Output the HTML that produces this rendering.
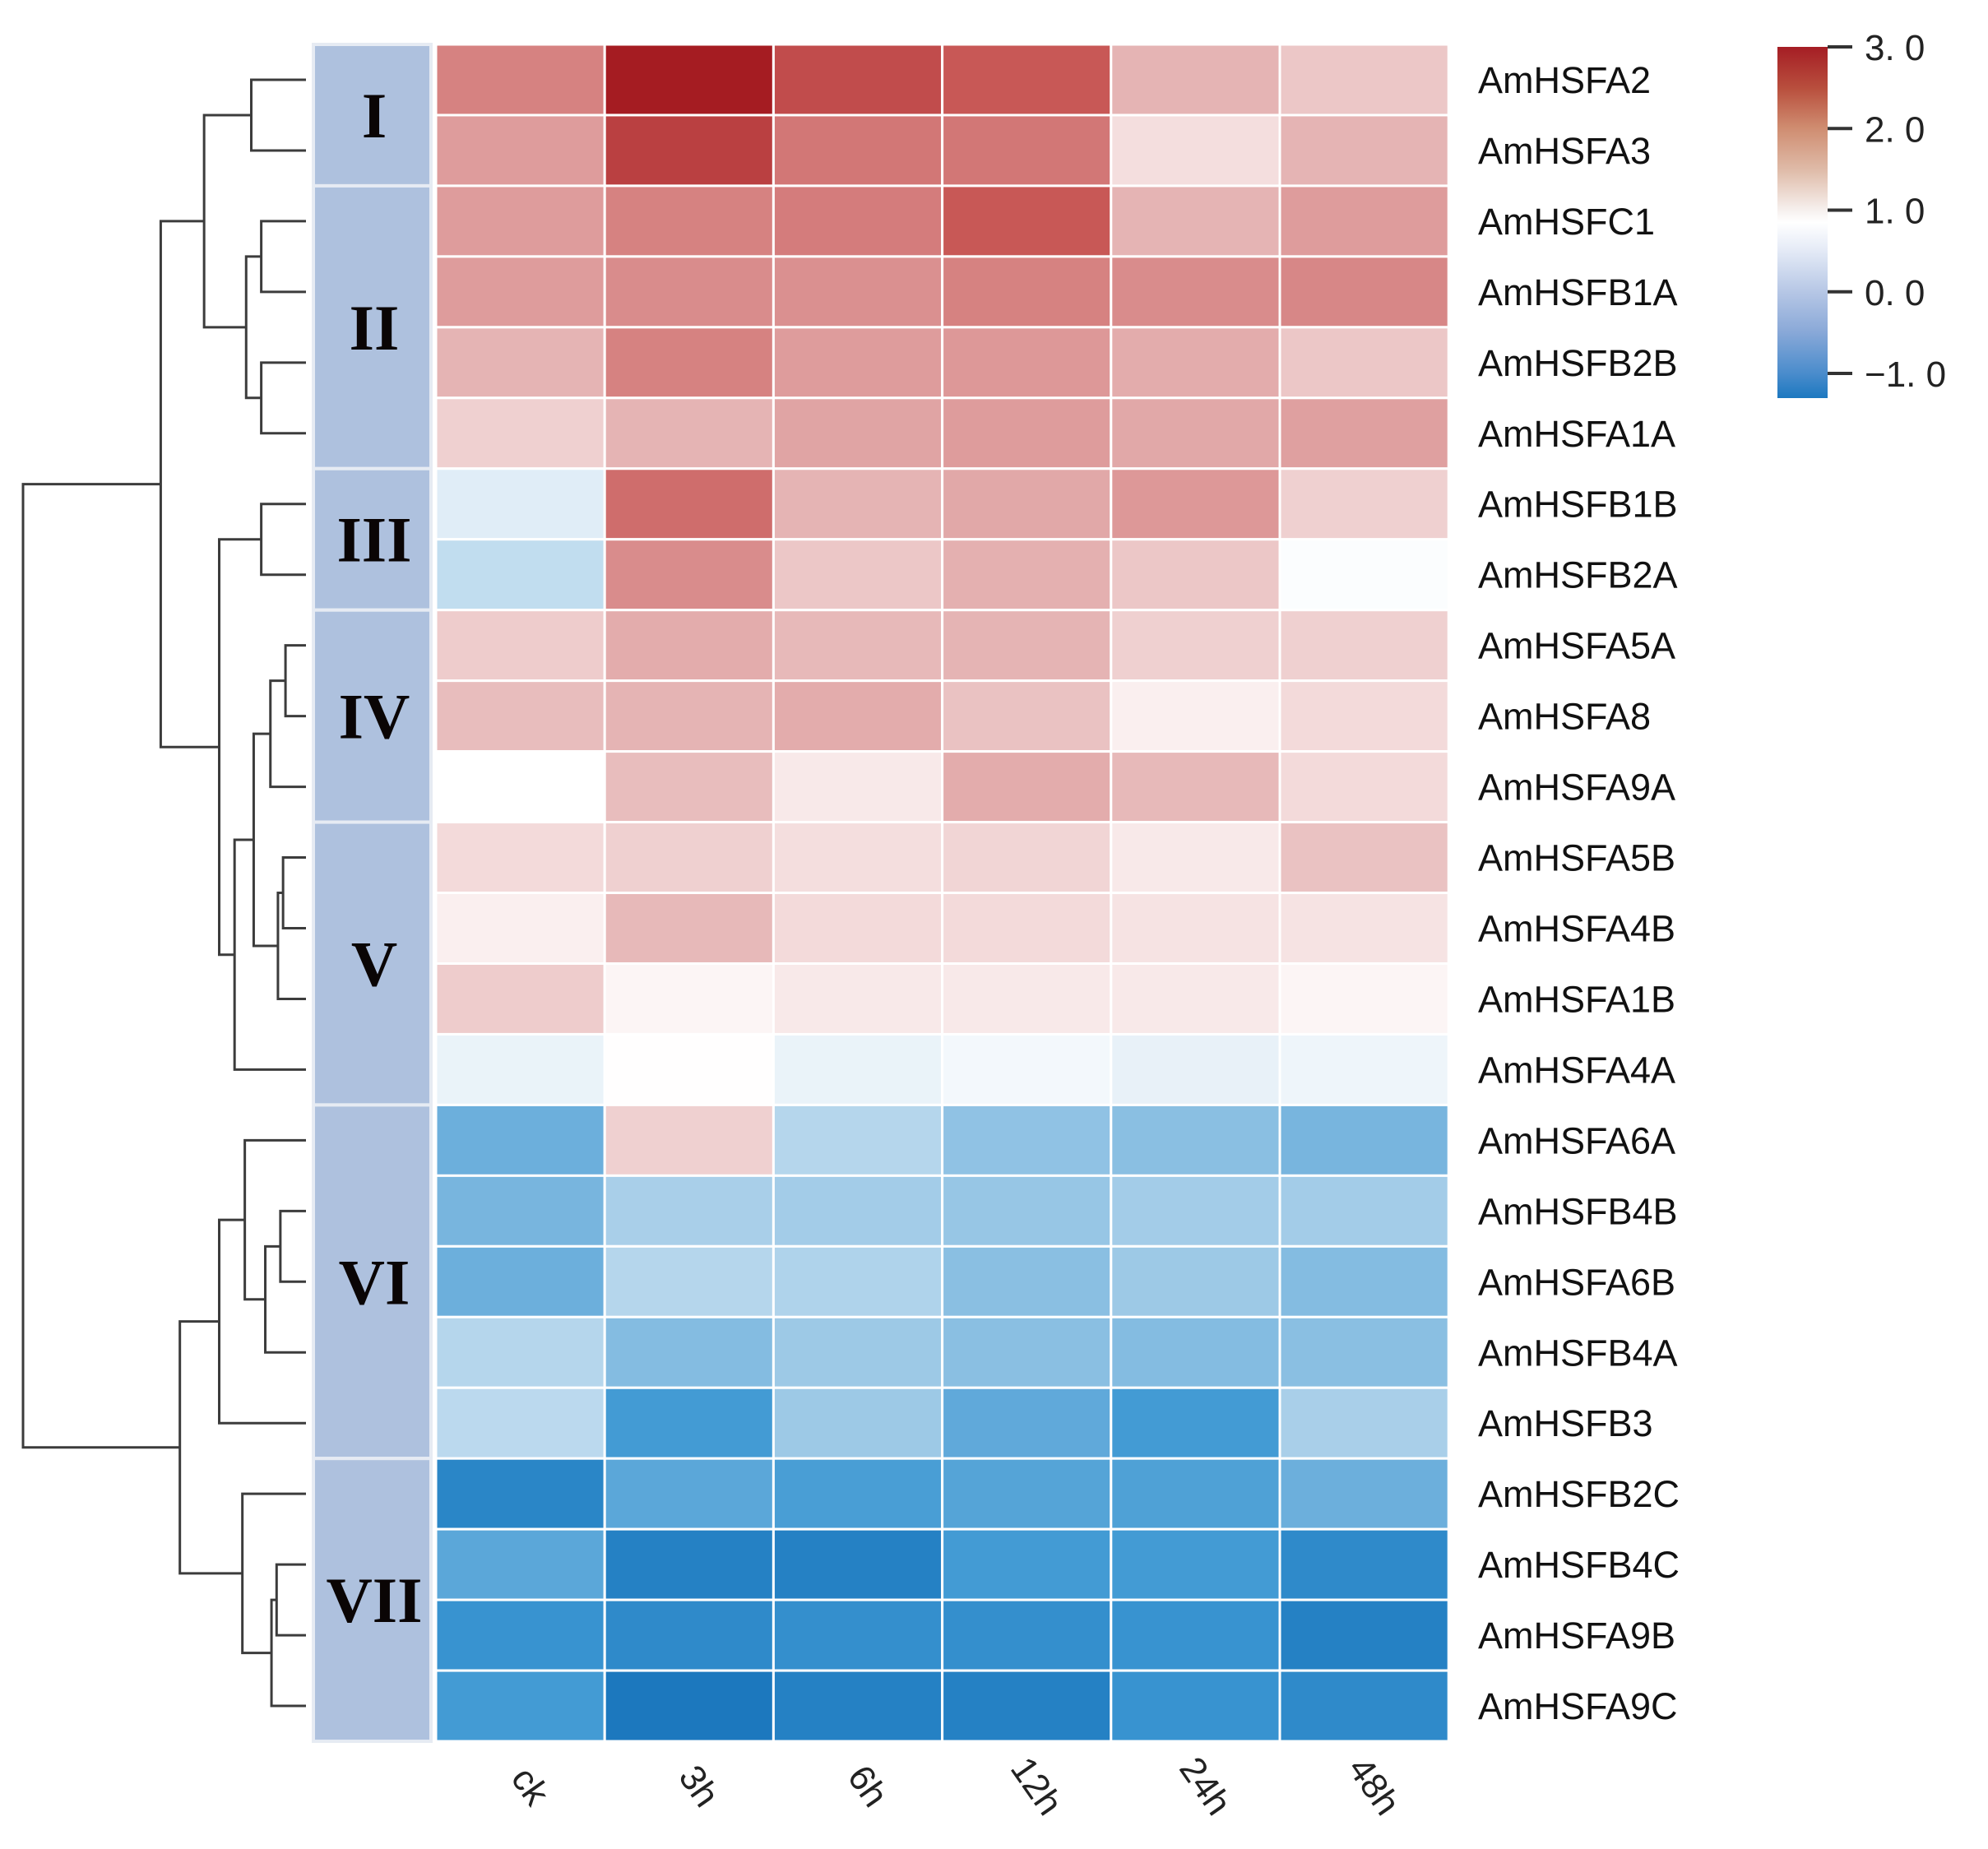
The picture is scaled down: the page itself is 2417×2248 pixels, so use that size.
<!DOCTYPE html>
<html><head><meta charset="utf-8"><style>
html,body{margin:0;padding:0;background:#fff;}
svg{display:block;}
</style></head><body>
<svg id="chart" width="2417" height="2248" viewBox="0 0 2417 2248" xmlns="http://www.w3.org/2000/svg">
<defs>
<linearGradient id="cbar" x1="0" y1="1" x2="0" y2="0">
<stop offset="0" stop-color="#1c78c0"/>
<stop offset="0.07" stop-color="#4a8ccc"/>
<stop offset="0.19" stop-color="#8aa9d8"/>
<stop offset="0.30" stop-color="#b5c6e5"/>
<stop offset="0.42" stop-color="#e4eaf6"/>
<stop offset="0.50" stop-color="#ffffff"/>
<stop offset="0.535" stop-color="#f6f0ee"/>
<stop offset="0.65" stop-color="#dfbba8"/>
<stop offset="0.77" stop-color="#cf8c70"/>
<stop offset="0.88" stop-color="#b9503e"/>
<stop offset="1" stop-color="#a51d24"/>
</linearGradient>
</defs>
<g id="dendro" stroke="#3c3c3c" stroke-width="3" fill="none"></g>
<g id="groups"></g>
<g id="cells"></g>
<g id="rowlabels"></g>
<g id="collabels"></g>
<g id="colorbar">
<rect x="2161" y="57" width="61" height="427" fill="url(#cbar)"/>
</g>
</svg>
<script>
const genes = ["AmHSFA2","AmHSFA3","AmHSFC1","AmHSFB1A","AmHSFB2B","AmHSFA1A","AmHSFB1B","AmHSFB2A","AmHSFA5A","AmHSFA8","AmHSFA9A","AmHSFA5B","AmHSFA4B","AmHSFA1B","AmHSFA4A","AmHSFA6A","AmHSFB4B","AmHSFA6B","AmHSFB4A","AmHSFB3","AmHSFB2C","AmHSFB4C","AmHSFA9B","AmHSFA9C"];
const times = ["ck","3h","6h","12h","24h","48h"];
const values = [
[2.1,3.0,2.6,2.5,1.5,1.3],
[1.8,2.7,2.2,2.2,1.05,1.5],
[1.8,2.1,2.15,2.5,1.5,1.8],
[1.8,2.0,1.95,2.1,2.0,2.05],
[1.5,2.1,1.8,1.85,1.6,1.3],
[1.2,1.5,1.7,1.8,1.65,1.75],
[0.35,2.3,1.5,1.65,1.85,1.2],
[0.1,2.0,1.3,1.55,1.3,0.65],
[1.25,1.6,1.45,1.5,1.2,1.2],
[1.4,1.5,1.6,1.35,0.9,1.1],
[0.7,1.4,0.95,1.6,1.45,1.1],
[1.1,1.2,1.05,1.15,0.95,1.35],
[0.9,1.45,1.1,1.1,1.0,1.0],
[1.25,0.85,0.95,0.95,0.95,0.85],
[0.45,0.72,0.45,0.55,0.42,0.5],
[-0.6,1.2,0.0,-0.3,-0.35,-0.5],
[-0.5,-0.1,-0.15,-0.25,-0.15,-0.15],
[-0.6,0.0,-0.05,-0.35,-0.2,-0.4],
[0.0,-0.4,-0.2,-0.35,-0.4,-0.35],
[0.05,-0.95,-0.2,-0.7,-0.95,-0.1],
[-1.2,-0.75,-0.9,-0.8,-0.85,-0.6],
[-0.75,-1.25,-1.25,-0.95,-0.95,-1.15],
[-1.05,-1.15,-1.1,-1.1,-1.05,-1.25],
[-0.95,-1.35,-1.25,-1.25,-1.05,-1.15]
];
const groupNames = ["I","II","III","IV","V","VI","VII"];
const groupStart = [0,2,6,8,11,15,20];
const groupEnd = [2,6,8,11,15,20,24];
const cbTicks = [3,2,1,0,-1];
const cbTickLabels = ["3. 0","2. 0","1. 0","0. 0","\u22121. 0"];
// dendrogram merges: [left, right, height]; leaves 0..23, internal nodes numbered 24+
const treeMerges = [
[0,1,0.203],   //24
[2,3,0.166],   //25
[4,5,0.166],   //26
[25,26,0.222], //27
[24,27,0.378], //28
[6,7,0.166],   //29
[8,9,0.076],   //30
[30,10,0.132], //31
[11,12,0.085], //32
[32,13,0.104], //33
[31,33,0.194], //34
[34,14,0.265], //35
[29,35,0.322], //36
[28,36,0.539], //37
[16,17,0.095], //38
[38,18,0.151], //39
[15,39,0.227], //40
[40,19,0.322], //41
[21,22,0.109], //42
[42,23,0.128], //43
[20,43,0.236], //44
[41,44,0.468], //45
[37,45,1.05]   //46
];
const NS='http://www.w3.org/2000/svg';
const L=530,T=54,CW=205.2,RH=85.96;
const xCol=i=>L+i*CW;
const yRow=i=>T+i*RH;
const leafX=372, rootX=28;
const xDist=d=>leafX-(leafX-rootX)*d/1.05;
function mk(tag,attrs,parent){const e=document.createElementNS(NS,tag);for(const k in attrs)e.setAttribute(k,attrs[k]);parent.appendChild(e);return e;}
const stops=[[-1.35,[28,120,190]],[-1.0,[61,152,211]],[-0.5,[120,181,222]],[0.0,[181,214,236]],[0.4,[230,240,248]],[0.7,[255,255,255]],[0.85,[252,245,245]],[1.0,[246,227,227]],[1.5,[229,180,180]],[2.0,[217,140,140]],[2.5,[200,88,86]],[3.0,[165,28,34]]];
function col(v){
 if(v<=stops[0][0])return `rgb(${stops[0][1]})`;
 for(let i=1;i<stops.length;i++){if(v<=stops[i][0]){const a=stops[i-1],b=stops[i];const t=(v-a[0])/(b[0]-a[0]);const c=a[1].map((x,j)=>Math.round(x+(b[1][j]-x)*t));return `rgb(${c})`;}}
 return `rgb(${stops[stops.length-1][1]})`;
}
const cells=document.getElementById('cells');
values.forEach((row,r)=>row.forEach((v,c)=>{
 const e=mk('rect',{x:xCol(c),y:yRow(r),width:CW,height:RH,fill:col(v),stroke:'#fff','stroke-width':3},cells);
 
 
}));
const rl=document.getElementById('rowlabels');
genes.forEach((g,i)=>{
 const t=mk('text',{x:1797,y:yRow(i)+RH/2+16,'font-family':'Liberation Sans, sans-serif','font-size':45,fill:'#111'},rl);
 t.textContent=g;
 
 
});
const cl=document.getElementById('collabels');
times.forEach((s,i)=>{
 const cx=xCol(i)+CW/2, cy=2180;
 const t=mk('text',{x:cx,y:cy,'font-family':'Liberation Sans, sans-serif','font-size':44,fill:'#222','text-anchor':'middle',transform:`rotate(55 ${cx} ${cy})`},cl);
 t.textContent=s;
 
 
});
const gg=document.getElementById('groups');
groupNames.forEach((n,i)=>{
 const y0=yRow(groupStart[i]),y1=yRow(groupEnd[i]);
 const r=mk('rect',{x:381,y:y0,width:143,height:y1-y0,fill:'#aec1de',stroke:'#e6ebf3','stroke-width':4},gg);
 
 
 const t=mk('text',{x:455,y:(y0+y1)/2+27,'font-family':'Liberation Serif, serif','font-weight':'bold','font-size':78,'text-anchor':'middle',fill:'#0a0505'},gg);
 t.textContent=n;
 
 
});
const dg=document.getElementById('dendro');
const pos={};
genes.forEach((g,i)=>{pos[i]={x:leafX,y:yRow(i)+RH/2};});
treeMerges.forEach((m,k)=>{
 const a=pos[m[0]],b=pos[m[1]],x=xDist(m[2]);
 const p=mk('path',{d:`M${a.x},${a.y}H${x}V${b.y}H${b.x}`},dg);
 
 
 pos[24+k]={x:x,y:(a.y+b.y)/2};
});
const cb=document.getElementById('colorbar');
const cbY=v=>57+(3-v)*(454-57)/4;
cbTicks.forEach((v,i)=>{
 const y=cbY(v);
 const l=mk('line',{x1:2222,x2:2252,y1:y,y2:y,stroke:'#333','stroke-width':4},cb);
 
 
 const t=mk('text',{x:2267,y:y+16,'font-family':'Liberation Sans, sans-serif','font-size':44,fill:'#222'},cb);
 t.textContent=cbTickLabels[i];
 
 
});
</script>
</body></html>
